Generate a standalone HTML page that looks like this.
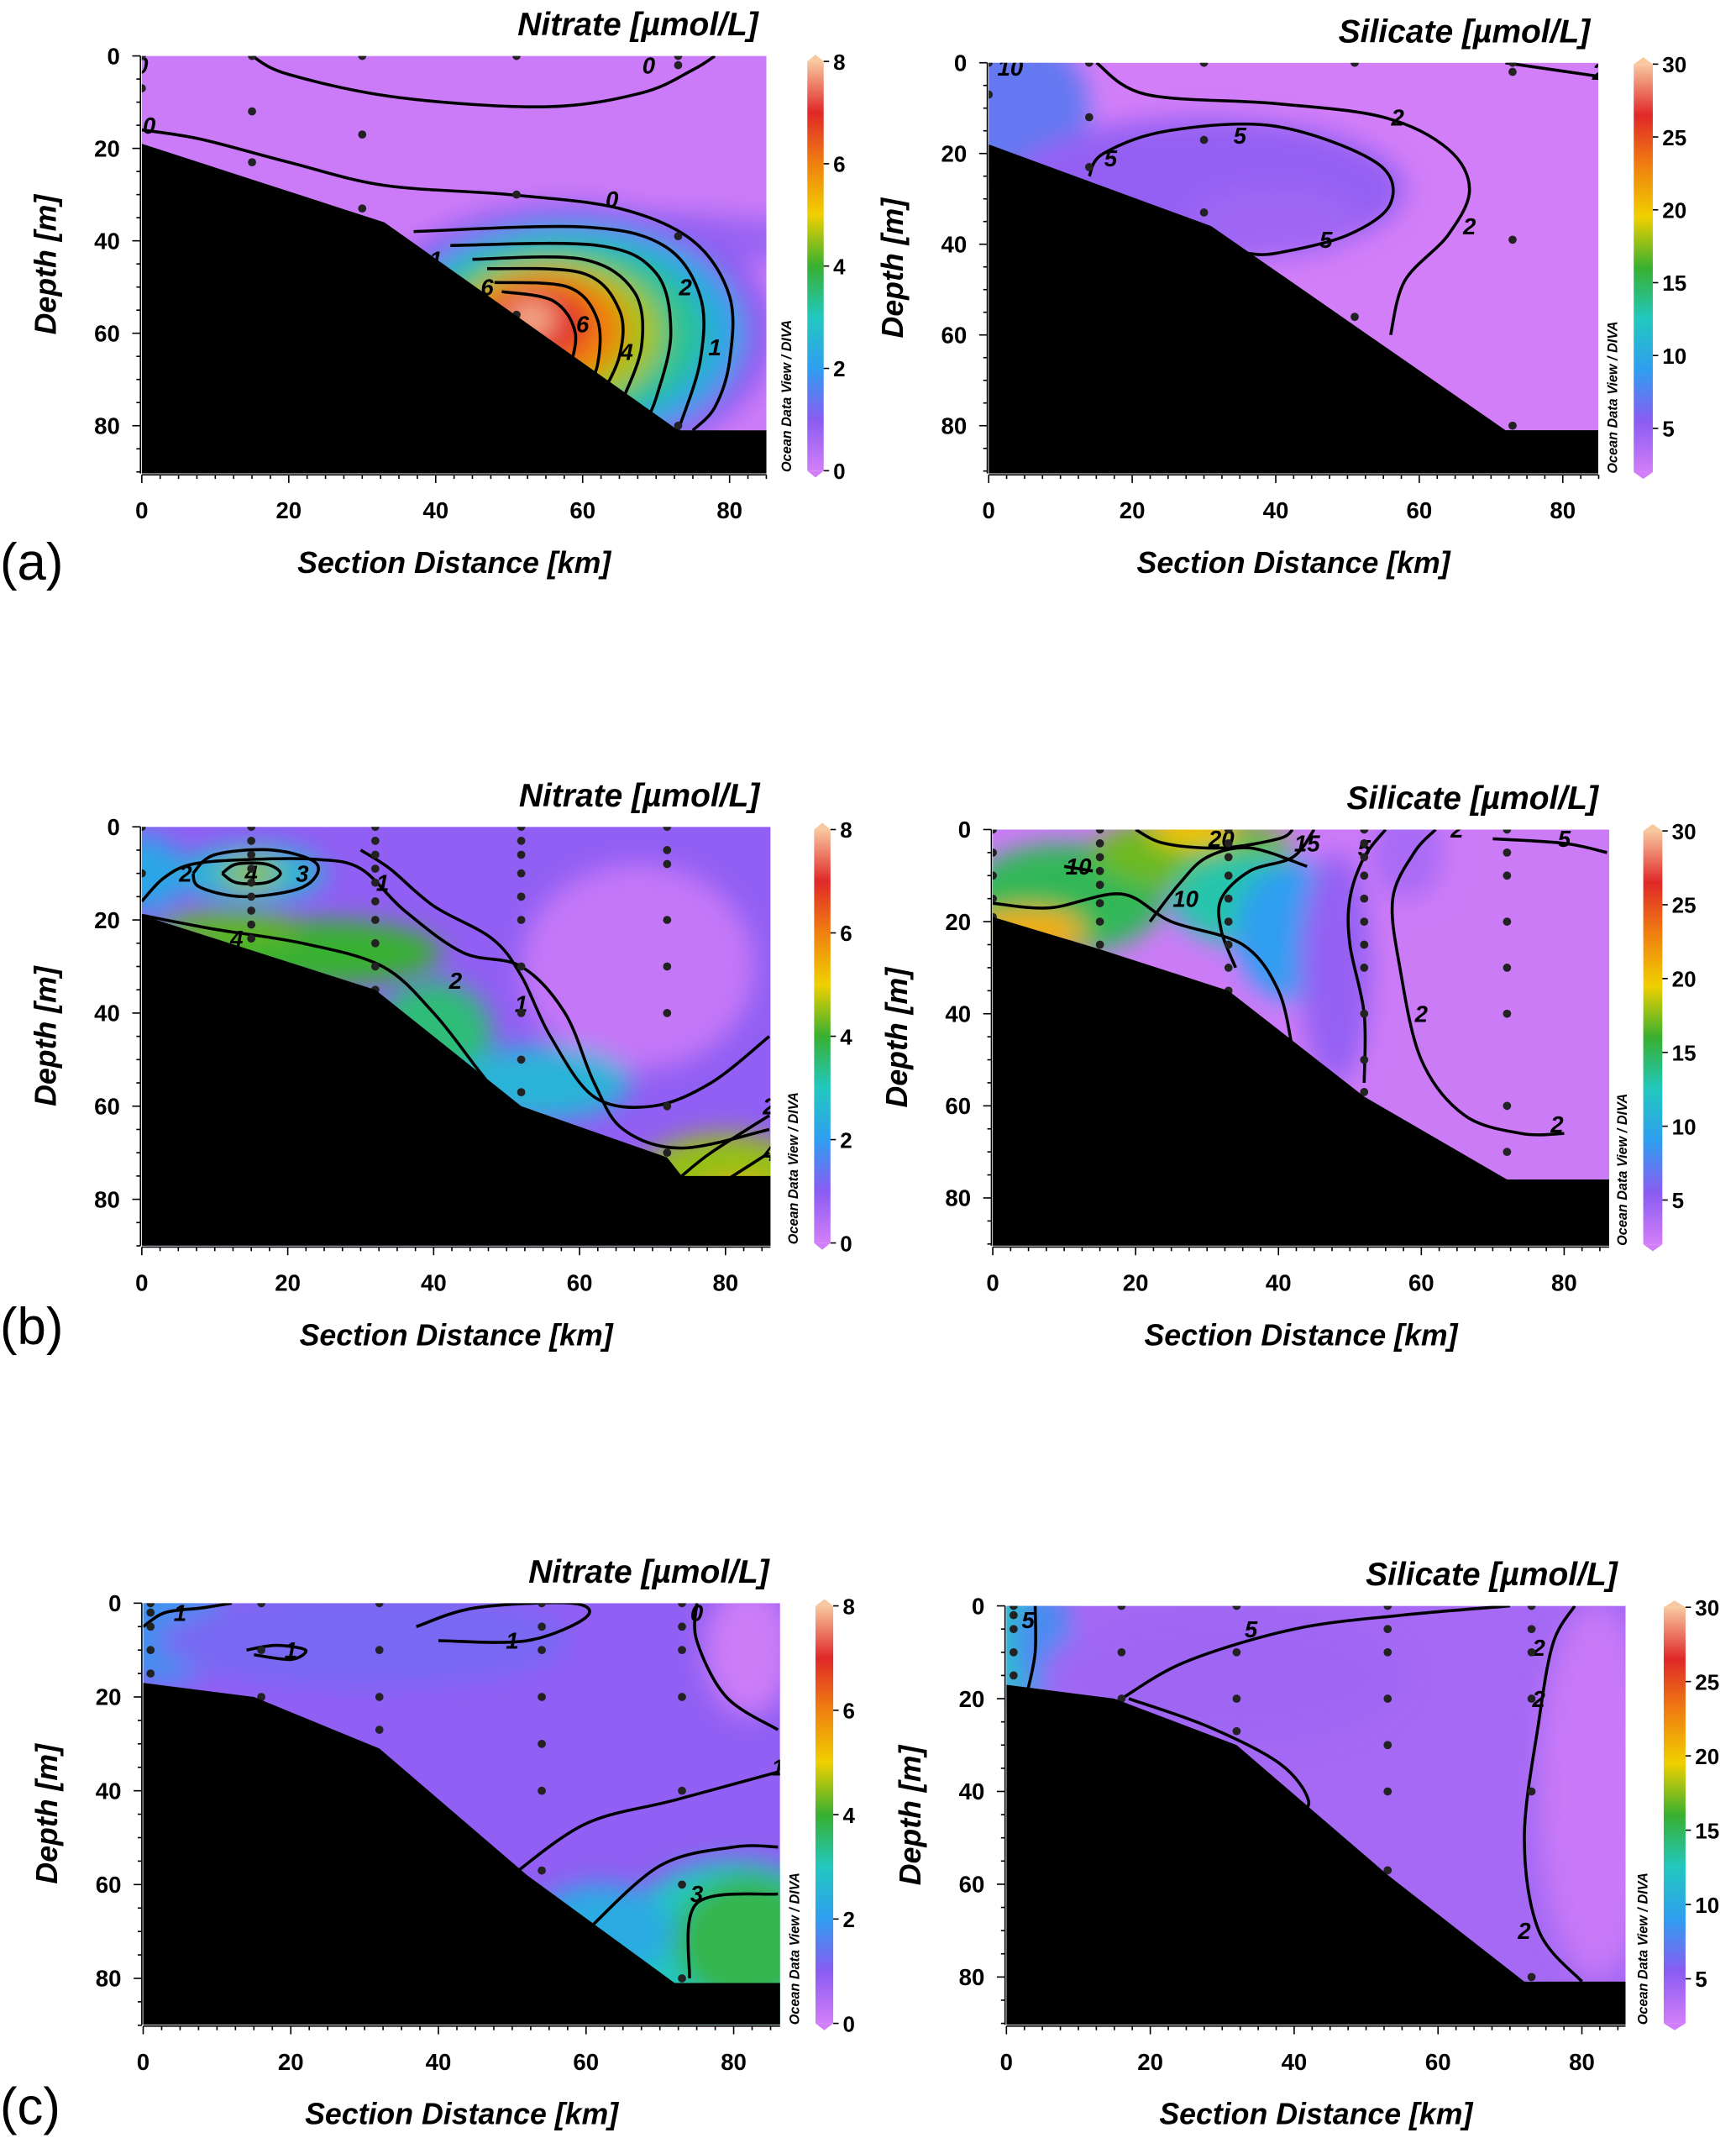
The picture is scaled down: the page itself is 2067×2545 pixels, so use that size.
<!DOCTYPE html>
<html><head><meta charset="utf-8"><style>
html,body{margin:0;padding:0;background:#fff}
svg{display:block}
text{font-family:"Liberation Sans",sans-serif;fill:#000}
</style></head><body>
<svg id="fig" xmlns="http://www.w3.org/2000/svg" width="2067" height="2545" viewBox="0 0 1273 1567" preserveAspectRatio="none">
<defs>
<filter id="blur" x="-50%" y="-50%" width="200%" height="200%"><feGaussianBlur stdDeviation="9"/></filter>
<linearGradient id="cbar" x1="0" y1="1" x2="0" y2="0">
<stop offset="0" stop-color="#d27ef8"/><stop offset="0.125" stop-color="#8a5cf2"/><stop offset="0.25" stop-color="#2f9ef0"/><stop offset="0.375" stop-color="#22c8c0"/><stop offset="0.5" stop-color="#38b030"/><stop offset="0.625" stop-color="#f0d000"/><stop offset="0.75" stop-color="#f08010"/><stop offset="0.875" stop-color="#e02828"/><stop offset="1" stop-color="#f8c8a0"/>
</linearGradient>
</defs>
<g id="root"></g>
</svg>
<script>
// ---------- data ----------
const xTicks=[0,20,40,60,80];
const yTicks=[0,20,40,60,80];
const nitrateTicks=[0,2,4,6,8];
const silicateTicks=[5,10,15,20,25,30];
const bathyA=[[0,19],[33,36],[73,81],[86,81]];
const bathyAR=[[0,18],[31,36],[72,81],[86,81]];
const bathyB=[[0,19],[32,35],[40,45],[52,60],[72,71],[74,75],[87,75]];
const bathyBR=[[0,19],[15,26],[33,35],[52,58],[72,76],[87,76]];
const bathyC=[[0,17],[15,20],[32,31],[52,58],[72,81],[87,81]];
const bathyCR=[[0,17],[15,20],[32,30],[53,58],[72,81],[87,81]];
const stA=[[0,[0,7]],[15,[0,12,23]],[30,[0,17,33]],[51,[0,30,56]],[73,[0,2,39,80]]];
const stAR=[[0,[0,7]],[14,[0,12,23]],[30,[0,17,33]],[51,[0,56]],[73,[0,2,39,80]]];
const stB=[[0,[0,10]],[15,[0,3,6,9,12,15,18,21,24]],[32,[0,3,6,9,12,16,20,25,30,35]],[52,[0,3,6,10,15,20,30,40,50,57]],[72,[0,5,8,20,30,40,60,70]]];
const stBR=[[0,[0,5,10,15,19]],[15,[0,3,6,9,12,16,20,25]],[33,[0,3,6,10,15,20,25,30,35]],[52,[0,3,6,10,15,20,25,30,40,50,57]],[72,[0,5,10,20,30,40,60,70]]];
const stC=[[1,[0,2,5,10,15]],[16,[0,10,20]],[32,[0,10,20,27]],[54,[0,5,10,20,30,40,57]],[73,[0,5,10,20,40,60,80]]];
const stCR=[[1,[0,2,5,10,15]],[16,[0,10,20]],[32,[0,10,20,27]],[53,[0,5,10,20,30,40,57]],[73,[0,5,10,20,40,80]]];
const fieldA=[[70,40,22,6,0.8],[58,60,28,28,1.0],[58,60,24,24,2.2],[57,60,20,20,3.3],[56,60,15,16,4.6],[55,59,11,12,6],[54,58,7,8,7],[53,57,3.5,4,7.8]];
const fieldAR=[[4,10,10,16,7],[30,28,28,16,5],[40,35,12,8,4.5]];
const fieldB=[[68,30,16,22,0.2],[0,10,6,8,2.2],[15,10,10,6,2.6],[15,10,4,3,4.5],[25,27,16,7,4],[40,45,8,12,3.5],[55,55,12,8,2.5],[80,76,12,10,4.5],[82,80,6,4,5.5],[12,22,10,4,4.2]];
const fieldBR=[[10,15,14,12,15],[5,22,8,5,21],[28,5,14,8,17],[28,0,6,4,20],[35,15,10,10,13],[42,22,8,15,9],[48,30,5,25,5],[58,5,5,10,4]];
const fieldC=[[82,10,6,14,0.1],[3,5,8,12,1.8],[30,8,28,10,1.2],[80,75,16,20,3],[82,72,10,14,3.8],[62,70,10,10,2.3]];
const fieldCR=[[1,7,4,14,12],[5,8,4,12,8],[30,15,25,15,4.5],[82,40,8,40,2.5]];
const contA=[["0",64,31,[[0,16],[8,18],[20,23],[33,28],[50,30],[65,33],[75,40],[80,52],[80,66],[78,76],[75,81]]],
["0",69,2,[[15,0],[20,4],[35,9],[55,11],[68,8],[75,3],[78,0]]],["0",0,2,[]],["0",1,15,[]],
["1",78,63,[[37,38],[60,37],[71,41],[76,52],[76,66],[73,81]]],
["2",74,50,[[42,41],[62,41],[70,47],[72,60],[70,74],[68,81]]],
["",0,0,[[45,44],[60,44],[67,51],[68,63],[65,76]]],
["4",66,64,[[47,46],[60,47],[65,55],[65,65],[62,75]]],
["",0,0,[[48,49],[58,50],[62,57],[62,67],[60,73]]],
["6",60,58,[[49,51],[56,53],[59,60],[58,69]]],["6",47,50,[]],["1",40,44,[]]];
const contAR=[["5",35,16,[[14,25],[16,20],[25,15],[40,14],[54,22],[56,31],[50,38],[40,42],[36,42]]],
["5",17,21,[]],["5",47,39,[]],
["2",57,12,[[15,0],[22,7],[40,9],[55,12],[64,19],[67,28],[64,38],[58,48],[56,60]]],["2",67,36,[]],
["2",85,2,[[72,0],[85,3]]],["10",3,1,[]]];
const contB=[["2",6,10,[[0,16],[3,11],[7,8],[15,7],[24,7],[30,9],[36,18],[44,27],[52,30],[58,40],[62,55],[66,65],[74,69],[86,65]]],
["1",33,12,[[30,5],[34,9],[40,17],[48,24],[52,32],[56,45],[62,58],[70,60],[78,55],[86,45]]],
["4",15,10,[[11,10],[13,8],[17,8],[19,10],[17,12],[13,12],[11,10]]],
["3",22,10,[[7,10],[10,6],[18,5],[24,8],[22,13],[14,15],[8,13],[7,10]]],
["4",13,24,[[0,19],[10,22],[22,25],[33,30],[40,40],[46,52],[50,60]]],
["2",43,33,[]],["1",52,38,[]],["2",86,60,[[74,75],[78,70],[86,62]]],["4",86,70,[[80,76],[86,70]]]];
const contBR=[["20",32,2,[[20,0],[24,3],[32,4],[40,2],[42,0]]],
["15",44,3,[[45,0],[42,6],[36,9],[32,15],[32,22],[34,30]]],
["10",12,8,[[10,8],[14,9]]],
["10",27,15,[[22,20],[26,12],[30,6],[36,4],[44,8]]],
["5",52,4,[[55,0],[52,6],[50,15],[50,25],[52,40],[52,55]]],
["2",65,0,[[62,0],[59,5],[56,15],[57,30],[60,50],[66,62],[74,66],[80,66]]],
["2",79,64,[]],["5",80,2,[[70,2],[80,3],[86,5]]],
["",0,0,[[0,16],[8,17],[18,14],[25,20],[35,25],[40,35],[42,48]]],
["2",60,40,[]]];
const contC=[["1",5,2,[[0,5],[3,2],[8,1],[12,0]]],
["1",20,10,[[14,10],[18,9],[22,10],[20,12],[15,11]]],
["1",50,8,[[37,5],[45,1],[58,0],[60,3],[52,8],[40,8]]],
["0",75,2,[[75,0],[75,8],[79,20],[86,27]]],
["1",86,35,[[50,58],[60,47],[72,42],[86,36]]],
["",0,0,[[60,70],[70,56],[80,52],[86,52]]],
["3",75,62,[[74,80],[75,64],[86,62]]]];
const contCR=[["5",3,3,[[4,0],[4,10],[3,18]]],
["5",34,5,[[16,20],[25,12],[40,5],[55,2],[70,0]]],
["",0,0,[[17,20],[28,26],[38,34],[42,42],[40,46]]],
["2",74,9,[[79,0],[76,8],[74,25],[72,50],[74,70],[80,81]]],["2",74,20,[]],["2",72,70,[]]];

const NS="http://www.w3.org/2000/svg";
const root=document.getElementById('root');
function mk(tag,attrs,parent){const e=document.createElementNS(NS,tag);for(const k in attrs)e.setAttribute(k,attrs[k]);(parent||root).appendChild(e);return e;}
const stops=[[0,[210,126,248]],[1,[138,92,242]],[2,[47,158,240]],[3,[34,200,192]],[4,[56,176,48]],[5,[240,208,0]],[6,[240,128,16]],[7,[224,40,40]],[8,[248,200,160]]];
function cmap(v){v=Math.max(0,Math.min(8,v));for(let i=0;i<stops.length-1;i++){if(v<=stops[i+1][0]){const t=v-stops[i][0];const a=stops[i][1],b=stops[i+1][1];return 'rgb('+a.map((c,j)=>Math.round(c+(b[j]-c)*t)).join(',')+')';}}return 'rgb(248,200,160)';}
function smooth(p){if(p.length<2)return '';let d='M'+p[0][0]+' '+p[0][1];for(let i=0;i<p.length-1;i++){const p0=p[Math.max(0,i-1)],p1=p[i],p2=p[i+1],p3=p[Math.min(p.length-1,i+2)];d+=' C'+(p1[0]+(p2[0]-p0[0])/6)+' '+(p1[1]+(p2[1]-p0[1])/6)+' '+(p2[0]-(p3[0]-p1[0])/6)+' '+(p2[1]-(p3[1]-p1[1])/6)+' '+p2[0]+' '+p2[1];}return d;}
let pid=0;
function panel(c){
 pid++;
 const g=mk('g',{});
 
 
 const sx=k=>c.x0+(c.x80-c.x0)*k/80, sy=m=>c.y0+(c.y80-c.y0)*m/80;
 const cvt=c.silicate?(v=>(v-2)/28*8):(v=>v);
 const cp=mk('clipPath',{id:'cp'+pid},g);mk('rect',{x:c.L,y:c.T,width:c.R-c.L,height:c.B-c.T},cp);
 const pg=mk('g',{'clip-path':'url(#cp'+pid+')'},g);
 const bg=mk('rect',{x:c.L,y:c.T,width:c.R-c.L,height:c.B-c.T,fill:cmap(cvt(c.base))},pg);
 
 
 const fg=mk('g',{filter:'url(#blur)'},pg);
 c.field.forEach(b=>{const e=mk('ellipse',{cx:sx(b[0]),cy:sy(b[1]),rx:Math.abs(sx(b[2])-sx(0)),ry:Math.abs(sy(b[3])-sy(0)),fill:cmap(cvt(b[4]))},fg);
  
  });
 c.cont.forEach(ct=>{if(ct[3].length){const p=mk('path',{d:smooth(ct[3].map(q=>[sx(q[0]),sy(q[1])])),fill:'none',stroke:'#000','stroke-width':2.2},pg);
  
  }
  if(ct[0]){const t=mk('text',{x:sx(ct[1]),y:sy(ct[2])+6,'font-size':17,'font-weight':'bold','font-style':'italic','text-anchor':'middle'},pg);t.textContent=ct[0];
  
  }});
 c.st.forEach(s=>s[1].forEach(d=>{const e=mk('circle',{cx:sx(s[0]),cy:sy(d),r:3,fill:'#222'},pg);
  
  }));
 const pts=c.bathy.map(q=>sx(q[0])+','+sy(q[1]));
 const poly=mk('polygon',{points:[c.L+','+c.B].concat([c.L+','+sy(c.bathy[0][1])],pts,[c.R+10+','+c.B]).join(' '),fill:'#000'},pg);
 
 
 const ax=mk('g',{},g);
 
 
 mk('line',{x1:c.L,y1:c.B+1,x2:c.R,y2:c.B+1,stroke:'#000','stroke-width':1},ax);
 for(let k=0;k<=85;k+=2.5){mk('line',{x1:sx(k),x2:sx(k),y1:c.B+1,y2:c.B+(k%20==0?7:4),stroke:'#000','stroke-width':1},ax);}
 xTicks.forEach(v=>{const t=mk('text',{x:sx(v),y:c.B+33,'font-size':17,'font-weight':'bold','text-anchor':'middle'},ax);t.textContent=v;
  
  });
 const xt=mk('text',{x:(c.L+c.R)/2,y:c.B+73,'font-size':22,'font-weight':'bold','font-style':'italic','text-anchor':'middle'},g);xt.textContent='Section Distance [km]';
 
 
 const ay=mk('g',{},g);
 
 
 mk('line',{x1:c.L-1,y1:c.T,x2:c.L-1,y2:c.B,stroke:'#000','stroke-width':1},ay);
 for(let m=0;m<=90;m+=5){mk('line',{x1:c.L-1,x2:c.L-(m%20==0?7:4),y1:sy(m),y2:sy(m),stroke:'#000','stroke-width':1},ay);}
 yTicks.forEach(v=>{const t=mk('text',{x:c.L-16,y:sy(v)+6,'font-size':17,'font-weight':'bold','text-anchor':'end'},ay);t.textContent=v;
  
  });
 const yt=mk('text',{x:0,y:0,'font-size':22,'font-weight':'bold','font-style':'italic','text-anchor':'middle',transform:'translate('+(c.L-63)+','+((c.T+c.B)/2)+') rotate(-90)'},g);yt.textContent='Depth [m]';
 
 
 const tt=mk('text',{x:c.titleX,y:c.T-15,'font-size':24,'font-weight':'bold','font-style':'italic','text-anchor':'end'},g);tt.textContent=c.title;
 
 
 const cb=mk('g',{},g);
 
 
 const cx0=c.cbX,cw=c.cbW,ct=c.cbT,cbb=c.cbB;
 mk('rect',{x:cx0,y:ct+5,width:cw,height:cbb-ct-10,fill:'url(#cbar)'},cb);
 mk('polygon',{points:cx0+','+(ct+5)+' '+(cx0+cw/2)+','+ct+' '+(cx0+cw)+','+(ct+5),fill:'#f8c8a0'},cb);
 mk('polygon',{points:cx0+','+(cbb-5)+' '+(cx0+cw/2)+','+cbb+' '+(cx0+cw)+','+(cbb-5),fill:'#d27ef8'},cb);
 const lo=c.silicate?2:0,hi=c.silicate?30:8;
 const cy=v=>cbb-5-(cbb-ct-10)*(v-lo)/(hi-lo);
 (c.silicate?silicateTicks:nitrateTicks).forEach(v=>{mk('line',{x1:cx0+cw,x2:cx0+cw+4,y1:cy(v),y2:cy(v),stroke:'#000'},cb);
  const t=mk('text',{x:cx0+cw+7,y:cy(v)+6,'font-size':16,'font-weight':'bold'},cb);t.textContent=v;
  
  });
 const ot=mk('text',{x:0,y:0,'font-size':10,'font-weight':'bold','font-style':'italic','text-anchor':'start',transform:'translate('+(cx0-12)+','+(cbb-4)+') rotate(-90)'},cb);ot.textContent='Ocean Data View / DIVA';
 
 
}
panel({name:'panel-a-nitrate',L:104,R:562,T:41,B:347,x0:104,x80:535,y0:41,y80:312,base:0.1,field:fieldA,cont:contA,st:stA,bathy:bathyA,title:'Nitrate [µmol/L]',titleX:556,cbX:592,cbW:12,cbT:40,cbB:350,silicate:false});
panel({name:'panel-a-silicate',L:725,R:1172,T:46,B:347,x0:725,x80:1146,y0:46,y80:312,base:2,field:fieldAR,cont:contAR,st:stAR,bathy:bathyAR,title:'Silicate [µmol/L]',titleX:1166,cbX:1198,cbW:14,cbT:42,cbB:351,silicate:true});
panel({name:'panel-b-nitrate',L:104,R:565,T:606,B:913,x0:104,x80:532,y0:606,y80:879,base:0.9,field:fieldB,cont:contB,st:stB,bathy:bathyB,title:'Nitrate [µmol/L]',titleX:557,cbX:597,cbW:12,cbT:603,cbB:916,silicate:false});
panel({name:'panel-b-silicate',L:728,R:1180,T:608,B:913,x0:728,x80:1147,y0:608,y80:878,base:2.3,field:fieldBR,cont:contBR,st:stBR,bathy:bathyBR,title:'Silicate [µmol/L]',titleX:1172,cbX:1205,cbW:14,cbT:604,cbB:917,silicate:true});
panel({name:'panel-c-nitrate',L:105,R:572,T:1175,B:1484,x0:105,x80:538,y0:1175,y80:1450,base:0.9,field:fieldC,cont:contC,st:stC,bathy:bathyC,title:'Nitrate [µmol/L]',titleX:564,cbX:598,cbW:13,cbT:1172,cbB:1488,silicate:false});
panel({name:'panel-c-silicate',L:738,R:1192,T:1177,B:1484,x0:738,x80:1160,y0:1177,y80:1449,base:4.2,field:fieldCR,cont:contCR,st:stCR,bathy:bathyCR,title:'Silicate [µmol/L]',titleX:1186,cbX:1220,cbW:16,cbT:1173,cbB:1488,silicate:true});
[['(a)',425],['(b)',985],['(c)',1557]].forEach(p=>{const t=mk('text',{x:0,y:p[1],'font-size':38});t.textContent=p[0];
 
 });
</script>
</body></html>
